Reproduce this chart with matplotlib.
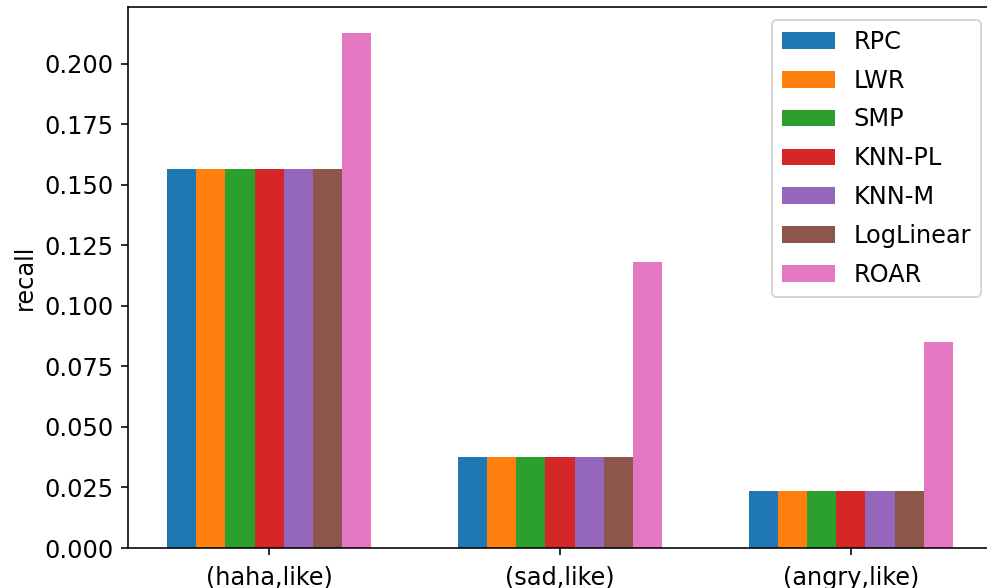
import numpy as np
import matplotlib.pyplot as plt

# recall per emotion pair for each method
pairs = ['(haha,like)', '(sad,like)', '(angry,like)']
methods = ['RPC', 'LWR', 'SMP', 'KNN-PL', 'KNN-M', 'LogLinear', 'ROAR']
recall = {
    'RPC':       [0.1566, 0.0377, 0.0237],
    'LWR':       [0.1566, 0.0377, 0.0237],
    'SMP':       [0.1566, 0.0377, 0.0237],
    'KNN-PL':    [0.1566, 0.0377, 0.0237],
    'KNN-M':     [0.1566, 0.0377, 0.0237],
    'LogLinear': [0.1566, 0.0377, 0.0237],
    'ROAR':      [0.2128, 0.1180, 0.0850],
}

plt.rcParams['font.size'] = 12

fig = plt.figure(figsize=(987 / 144, 588 / 144), dpi=144)
ax = fig.add_axes([128 / 987, 40 / 588, 864 / 987, 541 / 588])

x = np.arange(len(pairs))
w = 0.1
for j, m in enumerate(methods):
    ax.bar(x + (j - 3) * w, recall[m], w, label=m)

ax.set_xticks(x)
ax.set_xticklabels(pairs)
ax.tick_params(axis='x', pad=5.5)
ax.set_ylabel('recall')
ax.legend(loc='upper right', bbox_to_anchor=(1.001, 0.998),
          labelspacing=0.62, handlelength=2.2)

fig.savefig('out.png', dpi=144)
